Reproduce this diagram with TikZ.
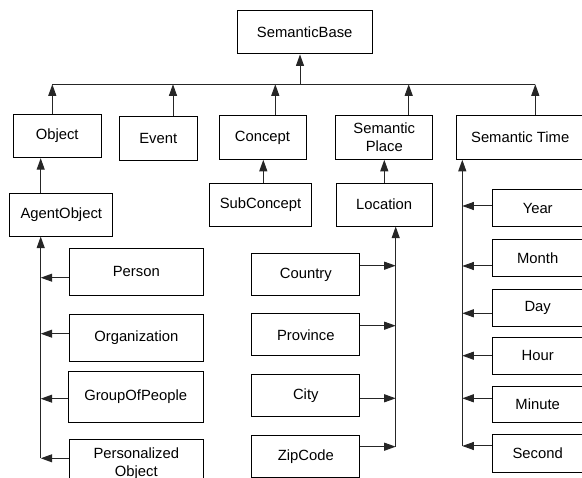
\documentclass[tikz,border=0pt]{standalone}
\usepackage{fontspec}
\setmainfont{Liberation Sans}
\usetikzlibrary{arrows.meta}
\tikzset{
  box/.style={draw=black, line width=1pt, inner sep=0pt, align=center,
    font=\fontsize{14.8}{17.8}\selectfont},
  wire/.style={line width=1pt, draw=black!85},
  arr/.style={wire, -{Triangle[length=11.5pt,width=8pt]}}
}
% box with given centre and size
\newcommand{\bx}[6]{\node[box, minimum width=#4pt, minimum height=#5pt] (#1) at (#2,#3) {#6};}
\begin{document}
\begin{tikzpicture}[x=1pt,y=-1pt]
\useasboundingbox (0,0) rectangle (582,478);

% top level
\bx{base}{304.7}{32.3}{134.7}{43.3}{SemanticBase}
\bx{object}{57.2}{136}{87.7}{43.4}{Object}
\bx{event}{158.2}{138.5}{78.3}{43.6}{Event}
\bx{concept}{262.5}{137.5}{87}{43.6}{Concept}
\bx{place}{384.3}{137.5}{96.7}{43.6}{Semantic\\Place}
\bx{time}{520.2}{137.5}{127.7}{43.6}{Semantic Time}

% second level
\bx{agent}{61.3}{214.7}{102.7}{42.7}{AgentObject}
\bx{subconcept}{260.5}{204.7}{102.4}{42.7}{SubConcept}
\bx{location}{384.2}{204.7}{96.3}{42.7}{Location}

% agent objects
\bx{person}{136.3}{271.7}{134}{46.7}{Person}
\bx{organization}{136.3}{337.7}{134}{46.7}{Organization}
\bx{group}{135.7}{397}{135.3}{50.6}{GroupOfPeople}
\bx{personal}{136.3}{463.5}{134}{47}{Personalized\\Object}

% locations
\bx{country}{305.8}{274.5}{108.3}{42.4}{Country}
\bx{province}{305.8}{335}{108.3}{42}{Province}
\bx{city}{305.8}{395.5}{108.3}{42.4}{City}
\bx{zipcode}{305.8}{456.2}{108.3}{42.3}{ZipCode}

% time units
\bx{year}{537.7}{208.3}{90.7}{36.7}{Year}
\bx{month}{537.7}{258}{90.7}{37.4}{Month}
\bx{day}{537.7}{307.7}{90.7}{36.7}{Day}
\bx{hour}{537.7}{355.7}{90.7}{36.7}{Hour}
\bx{minute}{537.7}{404.7}{90.7}{36}{Minute}
\bx{second}{537.7}{453.5}{90.7}{38.4}{Second}

% bus under SemanticBase
\coordinate (b0) at (300,84.3);
\coordinate (b1) at (52.3,84.3);
\coordinate (b2) at (173,84.3);
\coordinate (b3) at (275.3,84.3);
\coordinate (b4) at (408.7,84.3);
\coordinate (b5) at (535.3,84.3);
\draw[wire] (b1) -- (b5);
\draw[arr] (b0) -- (b0 |- base.south);
\draw[arr] (b1 |- object.north) -- (b1);
\draw[arr] (b2 |- event.north) -- (b2);
\draw[arr] (b3 |- concept.north) -- (b3);
\draw[arr] (b4 |- place.north) -- (b4);
\draw[arr] (b5 |- time.north) -- (b5);

% second level links
\coordinate (ax) at (40.7,0);
\coordinate (sx) at (263.3,0);
\coordinate (lx) at (384.3,0);
\draw[arr] (ax |- agent.north) -- (ax |- object.south);
\draw[arr] (sx |- subconcept.north) -- (sx |- concept.south);
\draw[arr] (lx |- location.north) -- (lx |- place.south);

% AgentObject subtypes
\coordinate (a1) at (40.7,277.7);
\coordinate (a2) at (40.7,333.7);
\coordinate (a3) at (40.7,398.7);
\coordinate (a4) at (40.7,458.3);
\draw[arr] (a4) -- (a4 |- agent.south);
\draw[arr] (a1 -| person.west) -- (a1);
\draw[arr] (a2 -| organization.west) -- (a2);
\draw[arr] (a3 -| group.west) -- (a3);
\draw[arr] (a4 -| personal.west) -- (a4);

% Location subtypes
\coordinate (l1) at (395.7,265.7);
\coordinate (l2) at (395.7,325.7);
\coordinate (l3) at (395.7,398.3);
\coordinate (l4) at (395.7,446.7);
\draw[arr] (l4) -- (l4 |- location.south);
\draw[arr] (l1 -| country.east) -- (l1);
\draw[arr] (l2 -| province.east) -- (l2);
\draw[arr] (l3 -| city.east) -- (l3);
\draw[arr] (l4 -| zipcode.east) -- (l4);

% Semantic Time subtypes
\coordinate (t1) at (462.3,206);
\coordinate (t2) at (462.3,266);
\coordinate (t3) at (462.3,313.3);
\coordinate (t4) at (462.3,355.7);
\coordinate (t5) at (462.3,398.3);
\coordinate (t6) at (462.3,446);
\draw[arr] (t6) -- (t6 |- time.south);
\draw[arr] (t1 -| year.west) -- (t1);
\draw[arr] (t2 -| month.west) -- (t2);
\draw[arr] (t3 -| day.west) -- (t3);
\draw[arr] (t4 -| hour.west) -- (t4);
\draw[arr] (t5 -| minute.west) -- (t5);
\draw[arr] (t6 -| second.west) -- (t6);
\end{tikzpicture}
\end{document}
